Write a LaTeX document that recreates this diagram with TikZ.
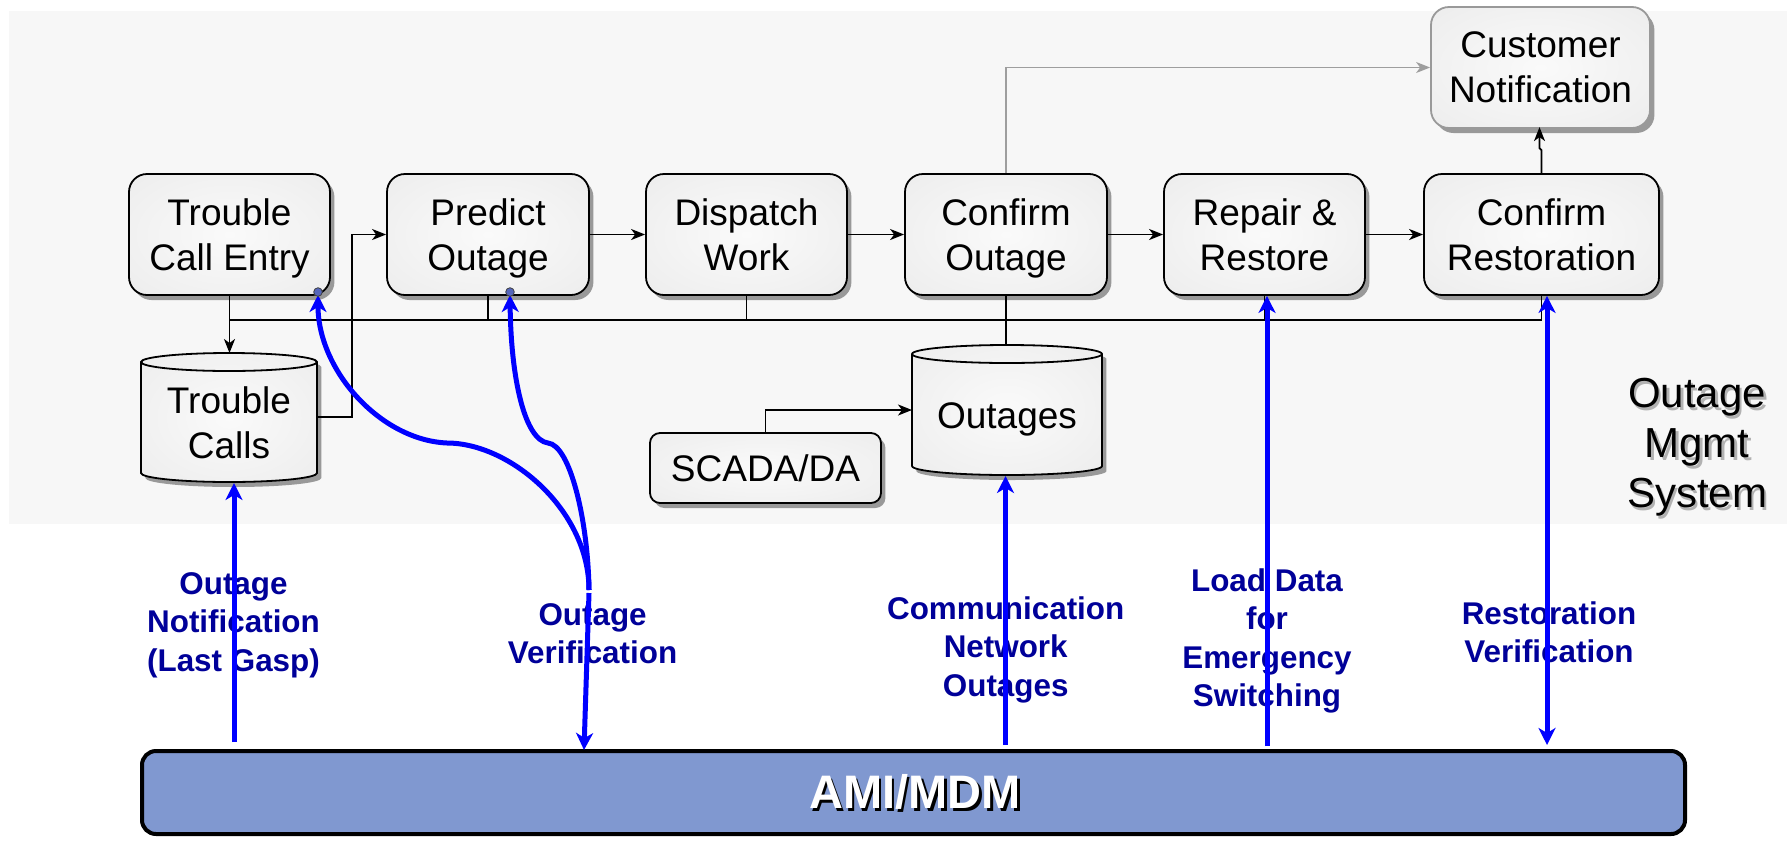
\documentclass[tikz,border=0pt]{standalone}
\usepackage{fontspec}
\setmainfont{Liberation Sans}
\usetikzlibrary{arrows.meta,shadows}
\definecolor{bggrey}{HTML}{F7F7F7}
\definecolor{navy}{HTML}{000099}
\definecolor{amiblue}{HTML}{8098D0}
\definecolor{dotblue}{HTML}{5566BB}
\definecolor{shadowgrey}{HTML}{999999}
\definecolor{shA}{HTML}{FAFAFA}
\definecolor{shB}{HTML}{EFEFEF}
\definecolor{shC}{HTML}{E5E5E5}
\pgfdeclareradialshading{boxshade}{\pgfpointorigin}{color(0bp)=(shA); color(30bp)=(shB); color(50bp)=(shC)}
\newcommand\boxfont{\fontsize{18.5pt}{22.5pt}\selectfont}
\newcommand\labfont{\bfseries\fontsize{15.7pt}{19.25pt}\selectfont}
\newcommand\omsfont{\fontsize{21pt}{25pt}\selectfont}
\newcommand\amifont{\bfseries\fontsize{23.5pt}{28pt}\selectfont}
\newcommand\nodepth[1]{\raisebox{0pt}[\height][0pt]{#1}}
\tikzset{
  box/.style={rectangle, rounded corners=9pt, draw=black, line width=0.9pt,
    shading=boxshade,
    drop shadow={shadow xshift=2.2pt, shadow yshift=-2.5pt, fill=shadowgrey, opacity=1},
    align=center, font=\boxfont, inner sep=0pt, minimum height=60.5pt},
  cyltext/.style={font=\boxfont, align=center, inner sep=0pt},
  lab/.style={font=\labfont, text=navy, align=center, inner sep=0pt},
  oms/.style={font=\omsfont, align=center, inner sep=0pt},
  amitext/.style={font=\amifont, inner sep=0pt},
  line/.style={draw=black, line width=0.85pt},
  conn/.style={draw=black, line width=0.85pt, -{Stealth[length=7pt,width=5.5pt,inset=2pt]}},
  greyconn/.style={draw=black!38, line width=0.7pt, -{Stealth[length=7pt,width=5.5pt,inset=2pt]}},
  bluearr/.style={draw=blue, line width=2.5pt, -{Stealth[length=8.5pt,width=8.5pt,inset=2.5pt]}},
  bluedbl/.style={draw=blue, line width=2.5pt, {Stealth[length=8.5pt,width=8.5pt,inset=2.5pt]}-{Stealth[length=8.5pt,width=8.5pt,inset=2.5pt]}},
  dotstyle/.style={fill=dotblue, draw=black!75, line width=0.4pt},
}
\begin{document}
\begin{tikzpicture}[x=0.5pt,y=-0.5pt]
\useasboundingbox (0,0) rectangle (1787,841);
\fill[white] (0,0) rectangle (1787,841);
\fill[bggrey] (9,11) rectangle (1787,524);

% ---- cylinder: Trouble Calls
\fill[shadowgrey, xshift=2.2pt, yshift=-2.5pt] (141,362) -- (141,473) arc[start angle=180, end angle=0, x radius=88, y radius=9] -- (317,362) arc[start angle=0, end angle=-180, x radius=88, y radius=9] -- cycle;
\shade[shading=boxshade, draw=black, line width=0.9pt] (141,362) -- (141,473) arc[start angle=180, end angle=0, x radius=88, y radius=9] -- (317,362) arc[start angle=0, end angle=-180, x radius=88, y radius=9] -- cycle;
\draw[line width=0.9pt] (141,362) arc[start angle=180, end angle=0, x radius=88, y radius=9];
% ---- cylinder: Outages
\fill[shadowgrey, xshift=2.2pt, yshift=-2.5pt] (912,354) -- (912,466) arc[start angle=180, end angle=0, x radius=95, y radius=9] -- (1102,354) arc[start angle=0, end angle=-180, x radius=95, y radius=9] -- cycle;
\shade[shading=boxshade, draw=black, line width=0.9pt] (912,354) -- (912,466) arc[start angle=180, end angle=0, x radius=95, y radius=9] -- (1102,354) arc[start angle=0, end angle=-180, x radius=95, y radius=9] -- cycle;
\draw[line width=0.9pt] (912,354) arc[start angle=180, end angle=0, x radius=95, y radius=9];

% ---- nodes
\node[box, minimum width=100.5pt] (tce) at (229.5,234.5) {Trouble\\\nodepth{Call Entry}};
\node[box, minimum width=101pt] (po) at (488,234.5) {Predict\\\nodepth{Outage}};
\node[box, minimum width=100.5pt] (dw) at (746.5,234.5) {Dispatch\\Work};
\node[box, minimum width=101pt] (co) at (1006,234.5) {Confirm\\\nodepth{Outage}};
\node[box, minimum width=100.5pt] (rr) at (1264.5,234.5) {Repair \&\\Restore};
\node[box, minimum width=117.5pt] (cr) at (1541.5,234.5) {Confirm\\Restoration};
\node[box, draw=black!40, minimum width=109.5pt] (cn) at (1540.5,67.5) {Customer\\Notification};
\node[box, rounded corners=5pt, minimum width=115.5pt, minimum height=35pt] (scada) at (765.5,468) {SCADA/DA};
\node[cyltext] (tc) at (229,423) {Trouble\\Calls};
\node[cyltext] (out) at (1007,419.5) {Outages};

\coordinate (tctop) at (229.5,353);
\coordinate (tcright) at (317,417);
\coordinate (tcbend) at (352,417);
\coordinate (tcbottom) at (234,483);
\coordinate (outtop) at (1006,345);
\coordinate (outleft) at (912,410);
\coordinate (outbottom) at (1005.5,476);
\coordinate (busL) at (229.5,320);
\coordinate (busR) at (1541.5,320);

% ---- labels
\node[lab] (l1) at (233.5,625) {Outage\\Notification\\(Last Gasp)};
\node[lab] (l2) at (592.6,633.5) {Outage\\Verification};
\node[lab] (l3) at (1005.7,649.5) {Communication\\Network\\Outages};
\node[lab] (l4) at (1267,641) {Load Data\\for\\Emergency\\Switching};
\node[lab] (l5) at (1549,632.5) {Restoration\\Verification};

\node[oms, text=black!30] at (1699.5,450) {Outage\\Mgmt\\System};
\node[oms] (omsys) at (1697,447.5) {Outage\\Mgmt\\System};

% ---- AMI bar
\node[draw=black, line width=2pt, rounded corners=7pt, fill=amiblue, minimum width=771.5pt, minimum height=41.5pt, inner sep=0pt] (ami) at (913.5,792.5) {};
\node[amitext, text=black] at (917.5,794.5) {AMI/MDM};
\node[amitext, text=white] (amilabel) at (915,792) {AMI/MDM};

% ---- black connectors
\draw[conn] (po.east) -- (dw.west);
\draw[conn] (dw.east) -- (co.west);
\draw[conn] (co.east) -- (rr.west);
\draw[conn] (rr.east) -- (cr.west);
\draw[conn] (tce.south) -- (tctop);
\draw[conn] (tcright) -- (tcbend) |- (po.west);
\draw[line] (busL) -- (busR);
\draw[line] (po.south) -- (po.south |- busL);
\draw[line] (dw.south) -- (dw.south |- busL);
\draw[line] (co.south) -- (outtop);
\draw[line] (rr.south) -- (rr.south |- busL);
\draw[line] (cr.south) -- (busR);
\draw[conn] (scada.north) |- (outleft);
\draw[greyconn] (co.north) |- (cn.west);
\draw[conn] (cr.north) -- ++(0,-23) -- ++(-2,-2) -- ++(0,-21);

% ---- blue connectors
\coordinate (amiA) at (234,742);
\coordinate (d1) at (318,292);
\coordinate (d2) at (510,292);
\coordinate (d1tip) at (318,295);
\coordinate (d2tip) at (510,295);
\coordinate (j) at (589,590);
\coordinate (j2) at (589,593);
\coordinate (amiV) at (584,750);
\coordinate (amiC) at (1005.5,745);
\coordinate (amiL) at (1267,746);
\coordinate (amiR) at (1547,745);

\draw[bluearr] (amiA) -- (tcbottom);
\draw[bluearr] (j) .. controls (589,510) and (510,443) .. (447,443) .. controls (380,440) and (318,370) .. (d1tip);
\draw[bluearr] (j) .. controls (588,520) and (570,445) .. (548,443) .. controls (525,440) and (511,380) .. (d2tip);
\draw[bluearr] (j2) -- (amiV);
\draw[bluearr] (amiC) -- (outbottom);
\draw[bluearr] (amiL) -- (amiL |- rr.south);
\draw[bluedbl] (amiR |- cr.south) -- (amiR);

\filldraw[dotstyle] (d1) circle[radius=2.15pt];
\filldraw[dotstyle] (d2) circle[radius=2.15pt];
\end{tikzpicture}
\end{document}
